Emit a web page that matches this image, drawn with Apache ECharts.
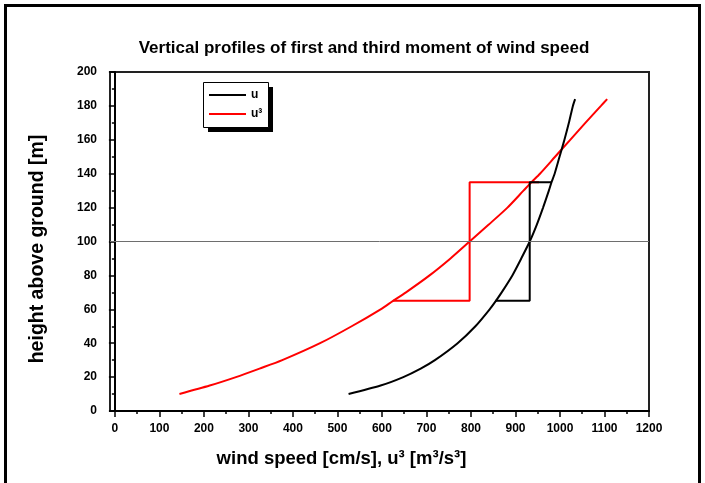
<!DOCTYPE html>
<html><head><meta charset="utf-8">
<script src="https://cdn.jsdelivr.net/npm/echarts@6/dist/echarts.min.js"></script>
<style>html,body{margin:0;padding:0;background:#fff}#c{width:705px;height:483px}</style>
</head><body><div id="c"></div>
<script>
const heights = [10,15,20,25,30,40,50,60,65,70,80,90,100,110,120,130,135,140,150,160,170,180,184];
const uSpeed = [525,597,648,687,719,770,810,842,856,869,893,913,932,948,962,975,981,988,999,1010,1020,1029,1034];
const u3Values = [145,213,272,325,376,461,532,597,625,654,707,754,797,840,882,918,936,955,989,1023,1057,1092,1106];
const uStepX = [855,932,932,981];
const uStepY = [65,65,135,135];
const u3StepX = [625,797,797,953];
const u3StepY = [65,65,135,135];
const refHeight = 100;
const xMajorTicks = [0,100,200,300,400,500,600,700,800,900,1000,1100,1200];
const xMinorTicks = [50,150,250,350,450,550,650,750,850,950,1050,1150];

const FONT = '"Liberation Sans", Arial, sans-serif';
const pairs = (xs, ys) => xs.map((x, i) => [x, ys[i]]);

const chart = echarts.init(document.getElementById('c'), null, {renderer: 'canvas'});
const xMin = -11, xMax = 1200;
chart.setOption({
  animation: false,
  backgroundColor: '#fff',
  title: {
    text: 'Vertical profiles of first and third moment of wind speed',
    left: 359, top: 35, textAlign: 'center',
    textStyle: {fontFamily: FONT, fontWeight: 'bold', fontSize: 17, color: '#000'}
  },
  graphic: [{
    type: 'rect', shape: {x: 5.5, y: 5.5, width: 694, height: 600},
    style: {fill: 'none', stroke: '#000', lineWidth: 3}, silent: true, z: 100
  }, {
    type: 'rect', shape: {x: 208, y: 87, width: 65, height: 45},
    style: {fill: '#000'}, silent: true, z: 1
  }, {
    type: 'rect', shape: {x: 203.5, y: 82.5, width: 65, height: 45},
    style: {fill: '#fff', stroke: '#000', lineWidth: 1}, silent: true, z: 2
  }],
  legend: {
    left: 203, top: 82, orient: 'vertical',
    padding: 6, itemGap: 5, itemWidth: 37, itemHeight: 2, itemTextGap: 5,
    icon: 'rect',
    textStyle: {fontFamily: FONT, fontWeight: 'bold', fontSize: 12, color: '#000', lineHeight: 14},
    data: ['u', 'u³'], z: 5
  },
  grid: {left: 110, right: 56, top: 72, bottom: 72, show: true, borderColor: '#222', borderWidth: 2, backgroundColor: 'transparent'},
  xAxis: [{
    type: 'value', min: xMin, max: xMax, position: 'bottom',
    name: 'wind speed [cm/s], u³ [m³/s³]', nameLocation: 'middle', nameGap: 38,
    nameTextStyle: {fontFamily: FONT, fontWeight: 'bold', fontSize: 18.5, color: '#000', padding: [0, 76, 0, 0]},
    axisLine: {show: true, onZero: false, lineStyle: {color: '#000', width: 2}},
    axisTick: {show: true, inside: false, length: 6, customValues: xMajorTicks, lineStyle: {color: '#000', width: 1.5}},
    axisLabel: {customValues: xMajorTicks, formatter: v => String(v), margin: 12, fontFamily: FONT, fontWeight: 'bold', fontSize: 12, color: '#000'},
    splitLine: {show: false}
  }, {
    type: 'value', min: xMin, max: xMax, position: 'bottom',
    axisLine: {show: false},
    axisTick: {show: true, inside: false, length: 3, customValues: xMinorTicks, lineStyle: {color: '#000', width: 1.5}},
    axisLabel: {show: false},
    splitLine: {show: false}
  }],
  yAxis: {
    type: 'value', min: 0, max: 200, interval: 20,
    name: 'height above ground [m]', nameLocation: 'middle', nameGap: 62,
    nameTextStyle: {fontFamily: FONT, fontWeight: 'bold', fontSize: 19.5, color: '#000', padding: [0, 15, 0, 0]},
    axisLine: {show: true, lineStyle: {color: '#000', width: 2}},
    axisTick: {show: true, inside: false, length: 6, lineStyle: {color: '#000', width: 1.5}},
    minorTick: {show: true, splitNumber: 2, length: 3, lineStyle: {color: '#000', width: 1.5}},
    axisLabel: {margin: 13, fontFamily: FONT, fontWeight: 'bold', fontSize: 12, color: '#000'},
    splitLine: {show: false}
  },
  series: [{
    name: 'ref', type: 'line', data: [], silent: true,
    markLine: {silent: true, symbol: 'none', label: {show: false},
      lineStyle: {color: '#6e6e6e', width: 1, type: 'solid'}, data: [{yAxis: refHeight}]}
  }, {
    name: 'u³', type: 'line', symbol: 'none', smooth: 0.25,
    lineStyle: {color: '#ff0000', width: 2}, itemStyle: {color: '#ff0000'},
    data: pairs(u3Values, heights)
  }, {
    name: 'u³ step', type: 'line', symbol: 'none',
    lineStyle: {color: '#ff0000', width: 2}, itemStyle: {color: '#ff0000'},
    data: pairs(u3StepX, u3StepY)
  }, {
    name: 'u', type: 'line', symbol: 'none', smooth: 0.25,
    lineStyle: {color: '#000', width: 2}, itemStyle: {color: '#000'},
    data: pairs(uSpeed, heights)
  }, {
    name: 'u step', type: 'line', symbol: 'none',
    lineStyle: {color: '#000', width: 2}, itemStyle: {color: '#000'},
    data: pairs(uStepX, uStepY)
  }]
});
</script>
</body></html>
